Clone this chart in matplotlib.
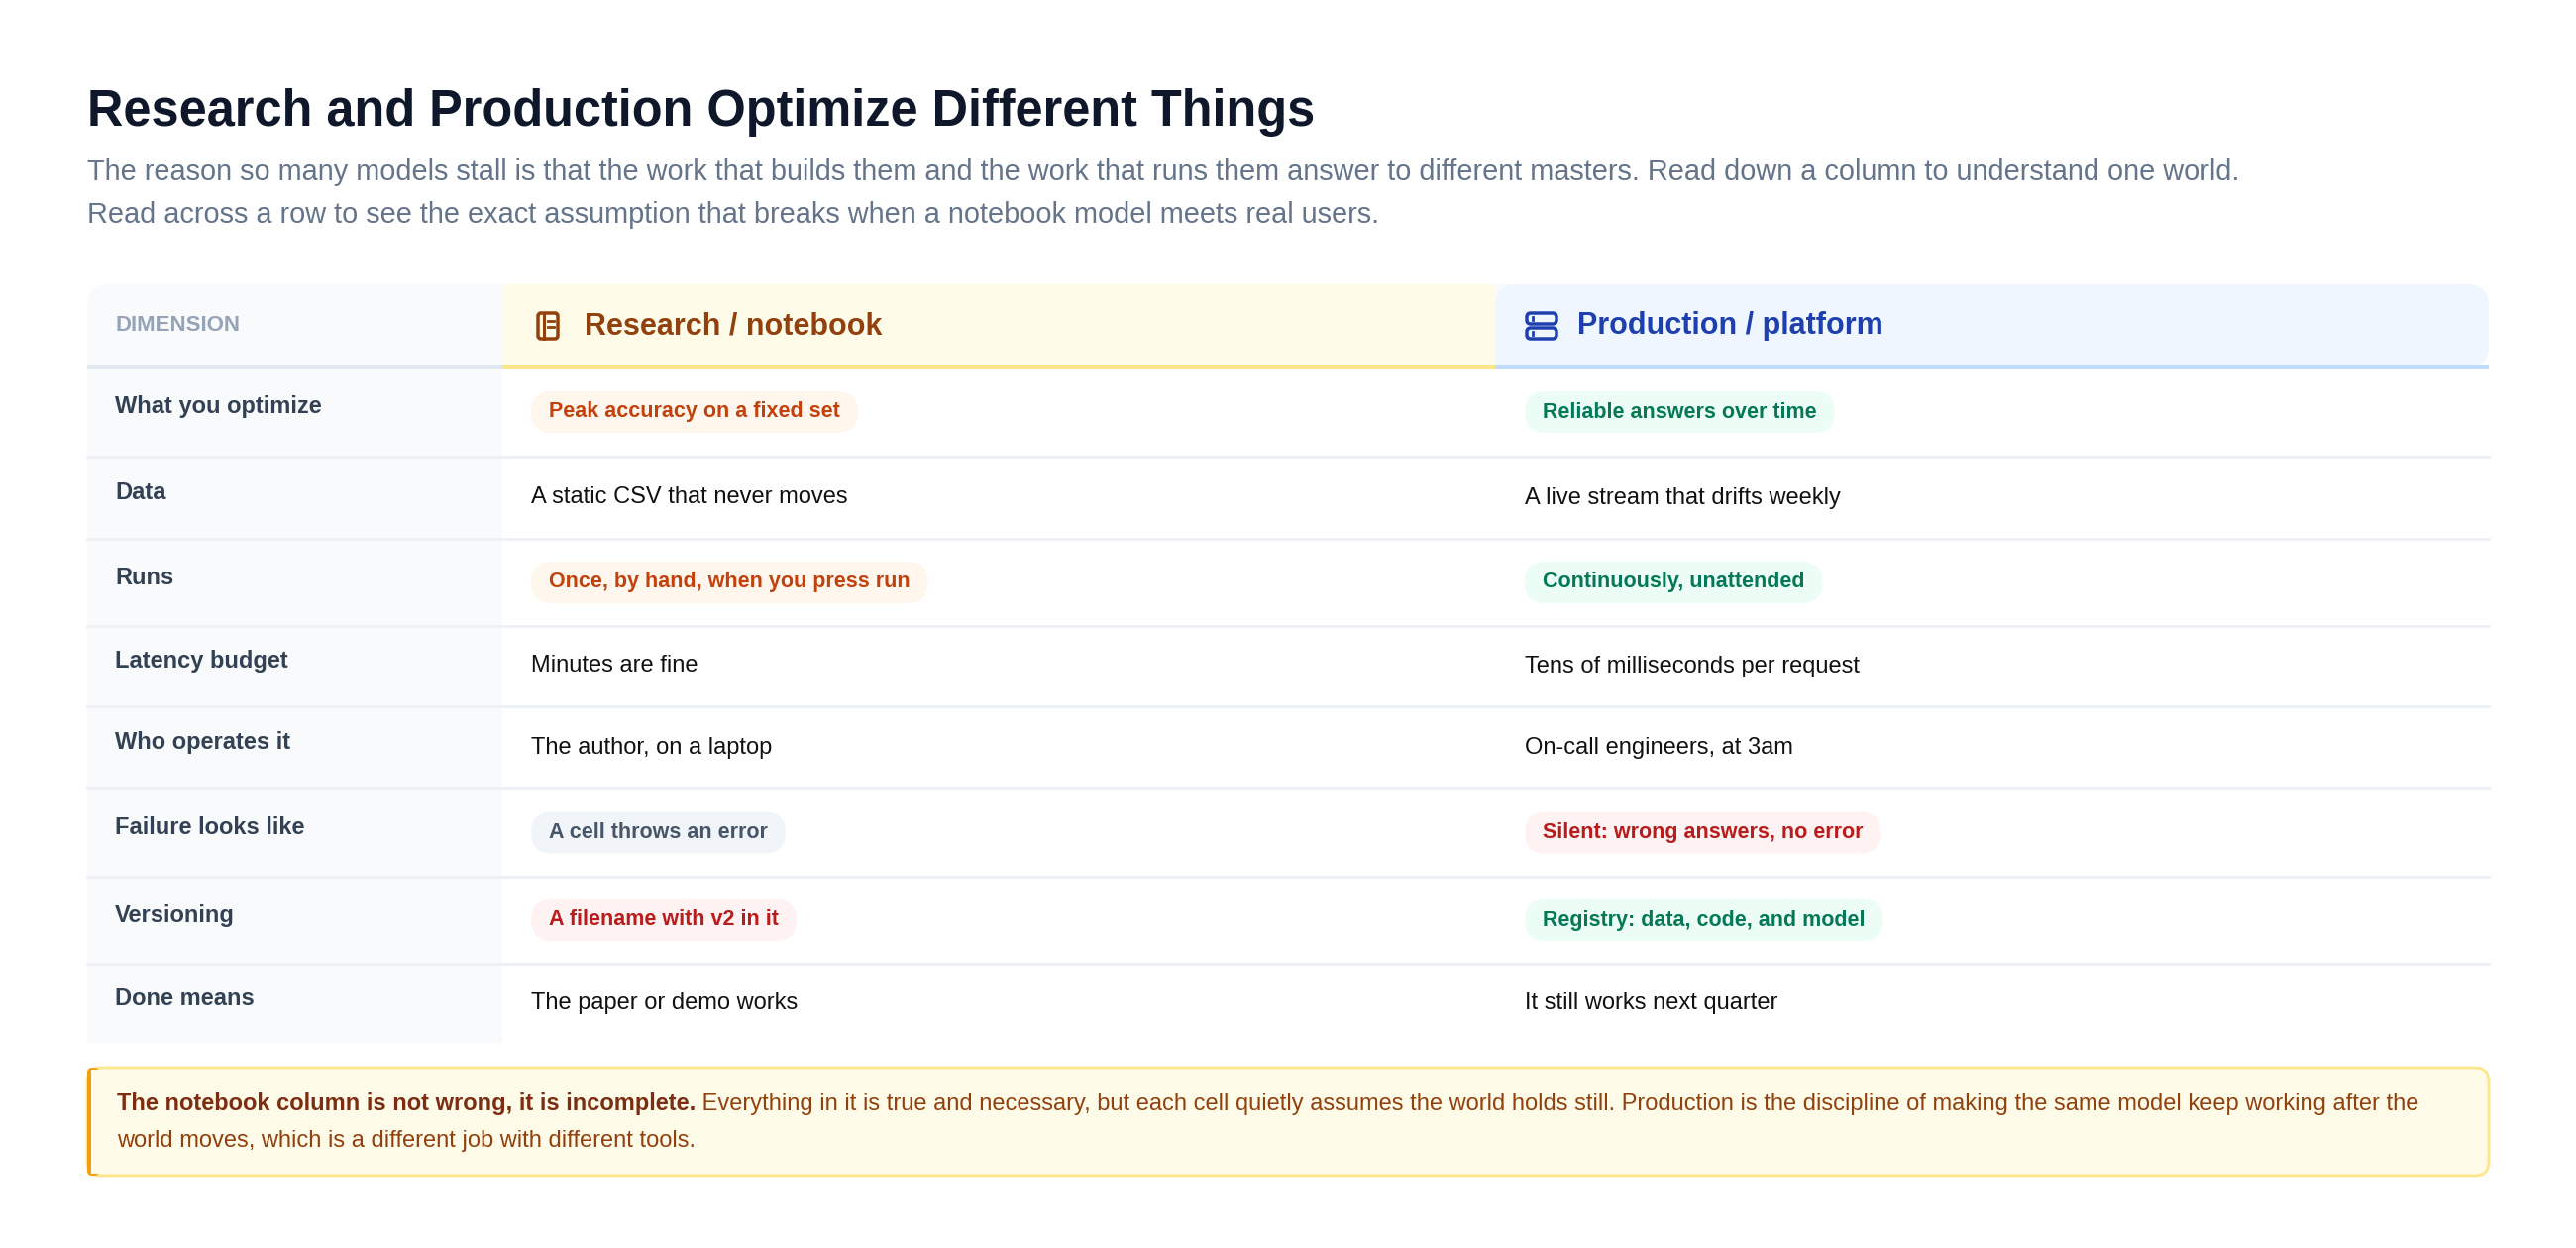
import matplotlib
matplotlib.use("Agg")
import matplotlib.pyplot as plt
from matplotlib.patches import FancyBboxPatch, Rectangle

plt.rcParams['font.family'] = ['Liberation Sans', 'DejaVu Sans']

title = "Research and Production Optimize Different Things"
subtitle = ["The reason so many models stall is that the work that builds them and the work that runs them answer to different masters. Read down a column to understand one world.",
            "Read across a row to see the exact assumption that breaks when a notebook model meets real users."]
columns = ["DIMENSION", "Research / notebook", "Production / platform"]
dimensions = ["What you optimize", "Data", "Runs", "Latency budget", "Who operates it",
              "Failure looks like", "Versioning", "Done means"]
research = ["Peak accuracy on a fixed set", "A static CSV that never moves", "Once, by hand, when you press run",
            "Minutes are fine", "The author, on a laptop", "A cell throws an error",
            "A filename with v2 in it", "The paper or demo works"]
research_tag = ["orange", None, "orange", None, None, "gray", "red", None]
production = ["Reliable answers over time", "A live stream that drifts weekly", "Continuously, unattended",
              "Tens of milliseconds per request", "On-call engineers, at 3am", "Silent: wrong answers, no error",
              "Registry: data, code, and model", "It still works next quarter"]
production_tag = ["green", None, "green", None, None, "red", "green", None]
note_bold = "The notebook column is not wrong, it is incomplete."
note_rest = [" Everything in it is true and necessary, but each cell quietly assumes the world holds still. Production is the discipline of making the same model keep working after the",
             "world moves, which is a different job with different tools."]

pill_style = {"orange": ("#c2410c", "#fff7ed"), "green": ("#047857", "#ecfdf5"),
              "gray": ("#475569", "#f1f5f9"), "red": ("#b91c1c", "#fef2f2")}

W, H = 2600, 1260
fig = plt.figure(figsize=(26, 12.6), dpi=100)
ax = fig.add_axes([0, 0, 1, 1])
ax.set_xlim(0, W)
ax.set_ylim(H, 0)
ax.axis("off")
renderer = fig.canvas.get_renderer()

def width_px(t):
    bb = t.get_window_extent(renderer=renderer)
    return bb.width

# title block
ax.text(88, 113, title, fontsize=36.4, fontweight="bold", color="#0f172a", va="center")
ax.text(88, 174, subtitle[0], fontsize=20.8, color="#64748b", va="center")
ax.text(88, 217, subtitle[1], fontsize=20.8, color="#64748b", va="center")

# table geometry
left, right = 88, 2512
c1, c2 = 507, 1509
head_top, head_bot = 287, 371
row_edges = [371, 461, 544, 632, 713, 796, 885, 973, 1054]

ax.add_patch(FancyBboxPatch((left, head_top), right - left, 60, boxstyle="round,pad=0,rounding_size=22",
                            fc="#f8fafc", ec="none", zorder=0))
ax.add_patch(Rectangle((left, head_top + 30), c1 - left, row_edges[-1] - head_top - 30, fc="#f8fafc", ec="none", zorder=0))
ax.add_patch(Rectangle((c1, head_top), c2 - c1, head_bot - head_top, fc="#fefbe8", ec="none", zorder=1))
ax.add_patch(FancyBboxPatch((c2, head_top), right - c2, head_bot - head_top, boxstyle="round,pad=0,rounding_size=22",
                            fc="#eff6ff", ec="none", zorder=1))
ax.add_patch(Rectangle((c2, head_top + 40), 40, head_bot - head_top - 40, fc="#eff6ff", ec="none", zorder=1))
ax.add_patch(Rectangle((left, head_bot - 2), c1 - left, 4, fc="#e2e8f0", ec="none", zorder=2))
ax.add_patch(Rectangle((c1, head_bot - 2), c2 - c1, 4, fc="#fde68a", ec="none", zorder=2))
ax.add_patch(Rectangle((c2, head_bot - 2), right - c2, 4, fc="#bfdbfe", ec="none", zorder=2))

hy = (head_top + head_bot) / 2
ax.text(116, hy, columns[0], fontsize=16, fontweight="bold", color="#94a3b8", va="center", zorder=3)
ax.text(590, hy, columns[1], fontsize=22, fontweight="bold", color="#92400e", va="center", zorder=3)
ax.text(1592, hy, columns[2], fontsize=22, fontweight="bold", color="#1e40af", va="center", zorder=3)

# notebook icon
ax.add_patch(FancyBboxPatch((543, hy - 13), 20, 26, boxstyle="round,pad=0,rounding_size=3",
                            fc="none", ec="#92400e", lw=2.5, zorder=3))
ax.plot([549, 549], [hy - 13, hy + 13], color="#92400e", lw=2.2, zorder=3)
ax.plot([553, 559], [hy - 5, hy - 5], color="#92400e", lw=2, zorder=3)
ax.plot([553, 559], [hy + 1, hy + 1], color="#92400e", lw=2, zorder=3)
# server icon
for yy in (hy - 13, hy + 2):
    ax.add_patch(FancyBboxPatch((1541, yy), 30, 11, boxstyle="round,pad=0,rounding_size=4",
                                fc="none", ec="#1e40af", lw=2.5, zorder=3))
    ax.plot([1547, 1547], [yy + 4, yy + 7], color="#1e40af", lw=2, zorder=3)

def cell(x, y, text, tag):
    if tag is None:
        ax.text(x, y, text, fontsize=17, color="#111111", va="center", zorder=3)
        return
    fg, bg = pill_style[tag]
    t = ax.text(x + 18, y, text, fontsize=15.5, fontweight="bold", color=fg, va="center", zorder=4)
    w = width_px(t)
    ax.add_patch(FancyBboxPatch((x, y - 21), w + 36, 42, boxstyle="round,pad=0,rounding_size=21",
                                fc=bg, ec="none", zorder=3))

for i in range(len(dimensions)):
    top, bot = row_edges[i], row_edges[i + 1]
    yc = (top + bot) / 2
    if i < len(dimensions) - 1:
        ax.plot([left, right], [bot, bot], color="#edf0f4", lw=2, zorder=2)
    ax.text(116, yc - 5, dimensions[i], fontsize=17, fontweight="bold", color="#334155", va="center", zorder=3)
    cell(536, yc, research[i], research_tag[i])
    cell(1539, yc, production[i], production_tag[i])

# callout
ax.add_patch(FancyBboxPatch((left, 1078), right - left, 109, boxstyle="round,pad=0,rounding_size=14",
                            fc="#fefbe8", ec="#fde68a", lw=2, zorder=1))
ax.add_patch(FancyBboxPatch((left, 1078), 12, 109, boxstyle="round,pad=0,rounding_size=5",
                            fc="#f59e0b", ec="none", zorder=2))
ax.add_patch(Rectangle((left + 4, 1080), 10, 105, fc="#fefbe8", ec="none", zorder=2))
b = ax.text(118, 1115, note_bold, fontsize=17, fontweight="bold", color="#7c2d12", va="center", zorder=3)
ax.text(118 + width_px(b), 1115, note_rest[0], fontsize=17, color="#92400e", va="center", zorder=3)
ax.text(118, 1152, note_rest[1], fontsize=17, color="#92400e", va="center", zorder=3)

fig.savefig("out.png", dpi=100, facecolor="white")
